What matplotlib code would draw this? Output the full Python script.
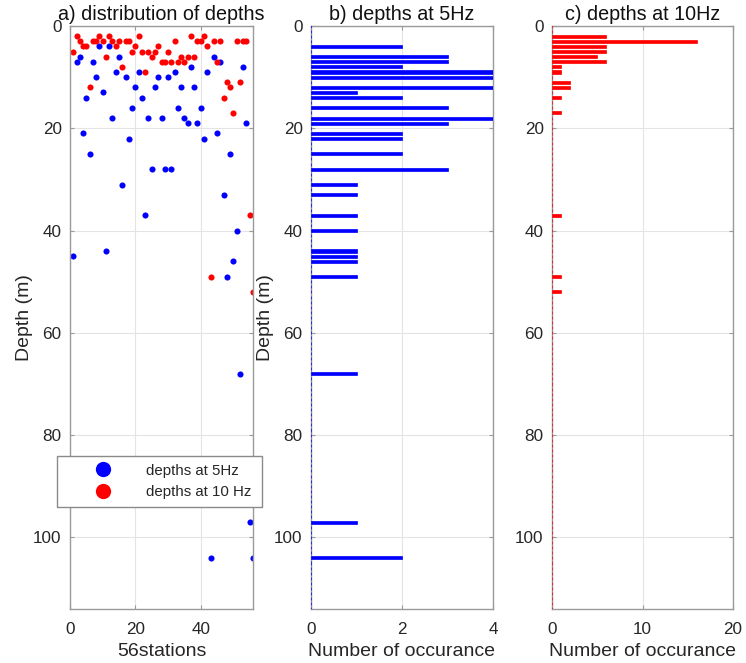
import numpy as np
import matplotlib
matplotlib.use("Agg")
import matplotlib.pyplot as plt

plt.rcParams['font.family'] = ['Liberation Sans', 'DejaVu Sans']

# station number and picked depth (m) at each frequency
stations = np.arange(1, 57)
depth_5hz = [45, 7, 6, 21, 14, 25, 7, 10, 4, 13,
             44, 4, 18, 9, 6, 31, 10, 22, 16, 12,
             9, 14, 37, 18, 28, 12, 10, 18, 28, 10,
             28, 9, 16, 12, 18, 19, 8, 12, 19, 16,
             22, 9, 104, 6, 21, 7, 33, 49, 25, 46,
             40, 68, 8, 19, 97, 104]
depth_10hz = [5, 2, 3, 4, 4, 12, 3, 3, 2, 3,
              6, 2, 3, 4, 3, 8, 3, 3, 5, 4,
              2, 5, 9, 5, 6, 5, 4, 7, 7, 5,
              7, 3, 7, 6, 7, 6, 2, 6, 3, 3,
              2, 4, 49, 3, 7, 3, 14, 11, 12, 17,
              3, 11, 3, 3, 37, 52]

labels = ['depths at 5Hz', 'depths at 10 Hz']
titles = ['a) distribution of depths', 'b) depths at 5Hz', 'c) depths at 10Hz']

ymax = 114
bins = np.arange(0, ymax + 1)
count_5hz = np.bincount(depth_5hz, minlength=len(bins))[:len(bins)]
count_10hz = np.bincount(depth_10hz, minlength=len(bins))[:len(bins)]

txt = '#262626'
axcol = '#9a9a9a'

W, H = 746, 663
fig = plt.figure(figsize=(W / 100, H / 100), dpi=100)


def make_ax(left, right, top=26, bottom=609):
    ax = fig.add_axes([left / W, 1 - bottom / H, (right - left) / W, (bottom - top) / H])
    for s in ax.spines.values():
        s.set_color(axcol)
        s.set_linewidth(1.0)
    ax.tick_params(direction='in', length=3, width=0.8, color=axcol,
                   labelcolor=txt, labelsize=12.3, pad=6,
                   top=True, right=True)
    ax.tick_params(axis='x', pad=9)
    ax.grid(True, color='#e4e4e4', linewidth=0.8)
    ax.set_axisbelow(True)
    ax.set_ylim(ymax, 0)
    ax.set_yticks([0, 20, 40, 60, 80, 100])
    return ax


ax1 = make_ax(70, 253)
ax2 = make_ax(311, 493)
ax3 = make_ax(552, 733)

# a) scatter of depths per station
ax1.plot(stations, depth_5hz, 'o', color='#0000ff', ms=4.4, mec='none', label=labels[0])
ax1.plot(stations, depth_10hz, 'o', color='#ff0000', ms=4.4, mec='none', label=labels[1])
ax1.set_xlim(0, 56)
ax1.set_xticks([0, 20, 40])
ax1.set_xlabel('56stations', fontsize=14, color=txt, labelpad=5)
ax1.set_ylabel('Depth (m)', fontsize=14, color=txt, labelpad=0)

leg = ax1.legend(loc='upper left', bbox_to_anchor=(57 / W, 1 - 456 / H, 205 / W, 0),
                 bbox_transform=fig.transFigure, mode='expand', borderaxespad=0,
                 fontsize=10.8, markerscale=2.5, numpoints=1, fancybox=False,
                 framealpha=1, edgecolor='#8a8a8a', handlelength=5.1,
                 handletextpad=0.33, labelspacing=0.5, borderpad=0.5)
leg.get_frame().set_linewidth(1.0)
for t in leg.get_texts():
    t.set_color(txt)

# b) histogram of 5 Hz depths (empty bins still leave their edge at zero)
ax2.barh(bins, count_5hz, height=0.6, color='#0000ff', edgecolor='#0000ff',
         linewidth=0.5, zorder=3)
ax2.set_xlim(0, 4)
ax2.set_xticks([0, 2, 4])
ax2.set_xlabel('Number of occurance', fontsize=14, color=txt, labelpad=5)
ax2.set_ylabel('Depth (m)', fontsize=14, color=txt, labelpad=0)

# c) histogram of 10 Hz depths
ax3.barh(bins, count_10hz, height=0.6, color='#ff0000', edgecolor='#ff0000',
         linewidth=0.5, zorder=3)
ax3.set_xlim(0, 20)
ax3.set_xticks([0, 10, 20])
ax3.set_xlabel('Number of occurance', fontsize=14, color=txt, labelpad=5)

for ax, t in zip([ax1, ax2, ax3], titles):
    ax.set_title(t, fontsize=14.2, color='#111111', pad=4)

fig.savefig('out.png', dpi=100)
